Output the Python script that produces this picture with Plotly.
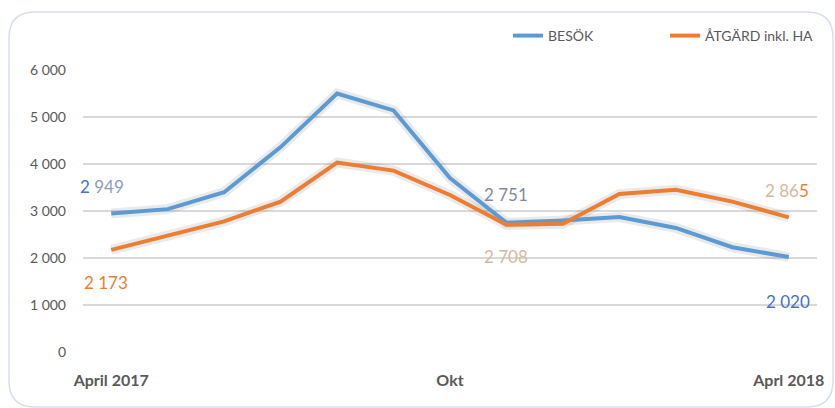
import plotly.graph_objects as go

months = ["Apr 2017", "Maj 2017", "Jun 2017", "Jul 2017", "Aug 2017", "Sep 2017",
          "Okt 2017", "Nov 2017", "Dec 2017", "Jan 2018", "Feb 2018", "Mar 2018", "Apr 2018"]
besok = [2949, 3040, 3400, 4360, 5500, 5140, 3700, 2751, 2800, 2870, 2640, 2230, 2020]
atgard = [2173, 2480, 2780, 3200, 4030, 3860, 3340, 2708, 2730, 3360, 3450, 3200, 2865]
series_names = ["BESÖK", "ÅTGÄRD inkl. HA"]
tick_positions = [months[0], months[6], months[12]]
tick_labels = ["April 2017", "Okt", "Aprl 2018"]
y_ticks = [0, 1000, 2000, 3000, 4000, 5000, 6000]

BLUE = "#5b9bd5"
ORANGE = "#ed7d31"
FONT = "Lato"

fig = go.Figure()
# soft shadows under the lines
for vals in (besok, atgard):
    fig.add_trace(go.Scatter(x=months, y=vals, mode="lines",
                             line=dict(color="rgba(90,90,90,0.13)", width=10),
                             showlegend=False, hoverinfo="skip"))
fig.add_trace(go.Scatter(x=months, y=besok, mode="lines", name=series_names[0],
                         line=dict(color=BLUE, width=4)))
fig.add_trace(go.Scatter(x=months, y=atgard, mode="lines", name=series_names[1],
                         line=dict(color=ORANGE, width=4)))

labels = [
    (months[0], besok[0], "<span style='color:#4472c4'>2</span> <span style='color:#8d9cb8'>949</span>", -9, 27),
    (months[0], atgard[0], "<span style='color:#ed7d31'>2 173</span>", -5, -33),
    (months[7], besok[7], "<span style='color:#7d8aa0'>2 751</span>", 0, 28),
    (months[7], atgard[7], "<span style='color:#d9b8a0'>2 708</span>", 0, -32),
    (months[12], atgard[12], "<span style='color:#d9b8a0'>2 86</span><span style='color:#ed7d31'>5</span>", -2, 27),
    (months[12], besok[12], "<span style='color:#4472c4'>2 020</span>", -1, -44),
]
for x, y, t, xs, ys in labels:
    fig.add_annotation(x=x, y=y, text=t, showarrow=False, xshift=xs, yshift=ys,
                       font=dict(family=FONT, size=17))

# rounded border around the chart (in paper coordinates)
L, R, T, B = 83, 817, 70, 352
W, H = R - L, B - T
def px(x): return (x - L) / W
def py(y): return (B - y) / H
x0, x1, y0, y1, r = 9, 833, 12, 407, 26
rx, ry = r / W, r / H
path = (f"M {px(x0)+rx},{py(y0)} L {px(x1)-rx},{py(y0)} Q {px(x1)},{py(y0)} {px(x1)},{py(y0)-ry} "
        f"L {px(x1)},{py(y1)+ry} Q {px(x1)},{py(y1)} {px(x1)-rx},{py(y1)} "
        f"L {px(x0)+rx},{py(y1)} Q {px(x0)},{py(y1)} {px(x0)},{py(y1)+ry} "
        f"L {px(x0)},{py(y0)-ry} Q {px(x0)},{py(y0)} {px(x0)+rx},{py(y0)} Z")
fig.add_shape(type="path", path=path, xref="paper", yref="paper",
              line=dict(color="#d6deec", width=1.5), layer="below")

fig.update_layout(
    width=835, height=408,
    margin=dict(l=L, r=835 - R, t=T, b=408 - B),
    paper_bgcolor="white", plot_bgcolor="white",
    separators=", ",
    font=dict(family=FONT, color="#595959"),
    showlegend=True,
    legend=dict(orientation="h", x=px(508), xanchor="left", y=py(36), yanchor="middle",
                font=dict(family=FONT, size=14, color="#595959"),
                entrywidth=112, entrywidthmode="pixels", bgcolor="rgba(0,0,0,0)"),
    xaxis=dict(type="category", categoryorder="array", categoryarray=months,
               range=[-0.5, 12.5], tickvals=tick_positions, ticktext=tick_labels,
               showgrid=False, zeroline=False, showline=False, ticks="",
               tickfont=dict(family=FONT, size=16, color="#595959", weight="bold"),
               ticklabelstandoff=17),
    yaxis=dict(range=[0, 6000], tickvals=y_ticks, tickformat=",d",
               showgrid=True, gridcolor="#d9d9d9", gridwidth=2,
               zeroline=False, showline=False, ticks="",
               tickfont=dict(family=FONT, size=14, color="#595959"),
               ticklabelstandoff=16),
)

fig.write_html("out.html")
